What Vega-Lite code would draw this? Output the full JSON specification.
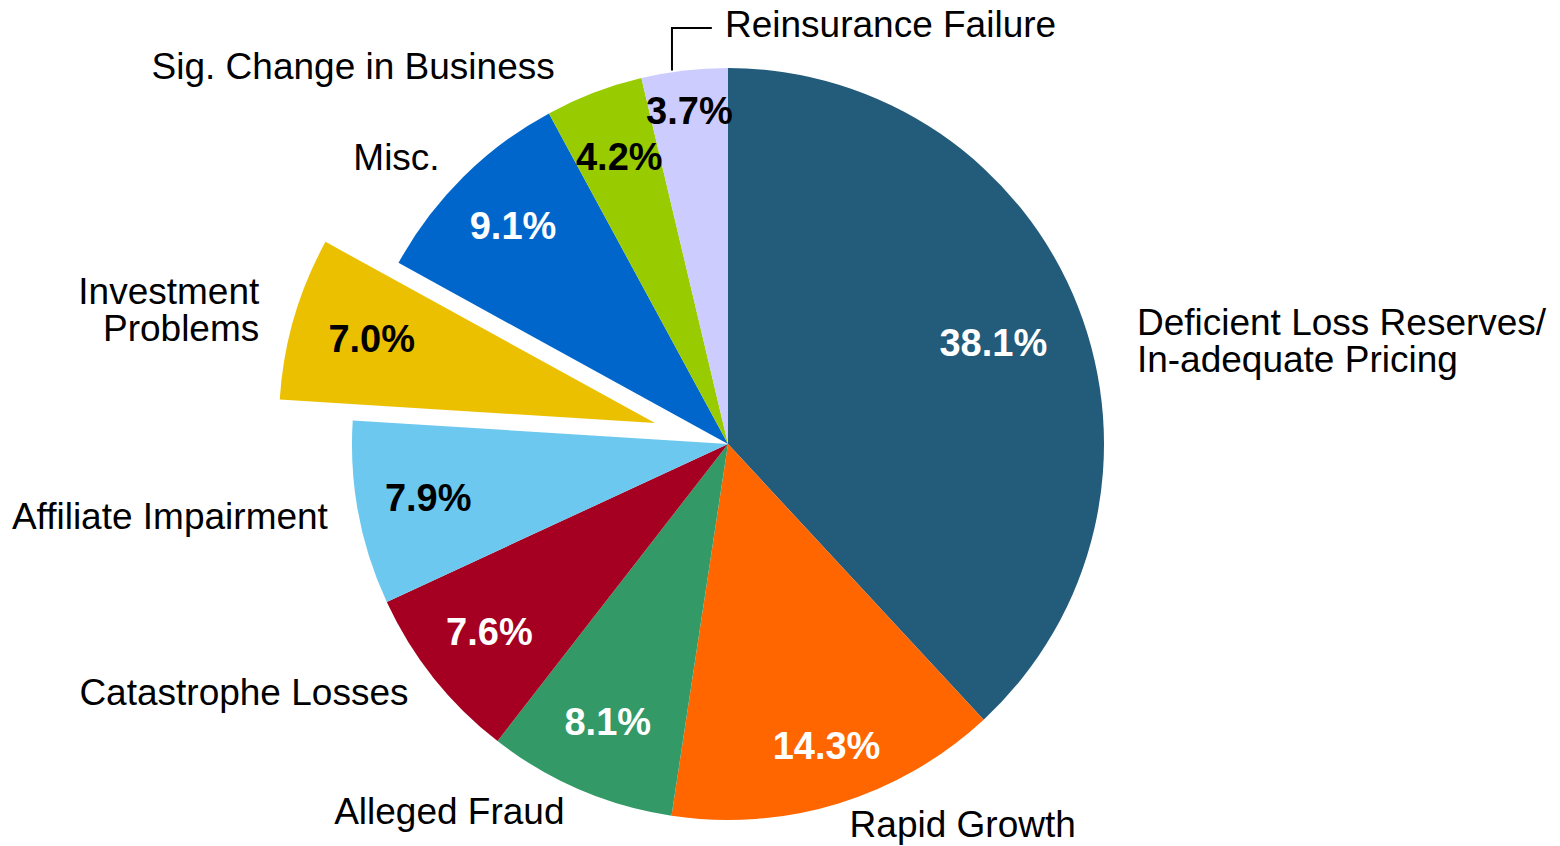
{
  "$schema": "https://vega.github.io/schema/vega-lite/v6.json",
  "width": 1456,
  "height": 804,
  "autosize": {"type": "none"},
  "padding": {"left": 0, "top": 42, "right": 104, "bottom": 0},
  "background": "white",
  "config": {"view": {"stroke": null}, "text": {"font": "Liberation Sans"}},
  "datasets": {
    "causes": [
      {"order": 1, "cause": "Deficient Loss Reserves/\nIn-adequate Pricing", "pct": 38.1},
      {"order": 2, "cause": "Rapid Growth", "pct": 14.3},
      {"order": 3, "cause": "Alleged Fraud", "pct": 8.1},
      {"order": 4, "cause": "Catastrophe Losses", "pct": 7.6},
      {"order": 5, "cause": "Affiliate Impairment", "pct": 7.9},
      {"order": 6, "cause": "Investment\nProblems", "pct": 7.0},
      {"order": 7, "cause": "Misc.", "pct": 9.1},
      {"order": 8, "cause": "Sig. Change in Business", "pct": 4.2},
      {"order": 9, "cause": "Reinsurance Failure", "pct": 3.7}
    ],
    "leader": [
      {"step": 1, "x": -14.9, "y": 99.3},
      {"step": 2, "x": -14.9, "y": 110.6},
      {"step": 3, "x": -4.3, "y": 110.6}
    ]
  },
  "layer": [
    {
      "data": {"name": "causes"},
      "transform": [
        {"window": [{"op": "sum", "field": "pct", "as": "cumEnd"}], "frame": [null, 0], "sort": [{"field": "order"}]},
        {"calculate": "datum.cumEnd - datum.pct", "as": "cumStart"},
        {"calculate": "(datum.cumStart + datum.cumEnd) / 2", "as": "mid"},
        {"calculate": "format(datum.pct, '.1f') + '%'", "as": "pctLabel"}
      ],
      "layer": [
        {
          "transform": [{"filter": "datum.order != 6"}],
          "mark": {"type": "arc", "outerRadius": 376},
          "encoding": {
            "theta": {"field": "cumStart", "type": "quantitative", "scale": {"domain": [0, 100]}, "stack": null},
            "theta2": {"field": "cumEnd"},
            "color": {
              "field": "order", "type": "nominal", "legend": null,
              "scale": {"domain": [1, 2, 3, 4, 5, 6, 7, 8, 9], "range": ["#235B7A", "#FF6600", "#339966", "#A50021", "#6CC8EE", "#EBC000", "#0066CC", "#99CC00", "#CCCCFF"]}
            }
          }
        },
        {
          "transform": [{"filter": "datum.order == 6"}],
          "mark": {"type": "arc", "outerRadius": 376, "xOffset": -73, "yOffset": -21},
          "encoding": {
            "theta": {"field": "cumStart", "type": "quantitative", "scale": {"domain": [0, 100]}, "stack": null},
            "theta2": {"field": "cumEnd"},
            "color": {"field": "order", "type": "nominal", "legend": null}
          }
        },
        {
          "transform": [{"filter": "indexof([3, 4, 5, 7, 8], datum.order) >= 0"}],
          "mark": {"type": "text", "radius": 305, "fontSize": 38, "fontWeight": "bold", "align": "center", "baseline": "middle"},
          "encoding": {
            "theta": {"field": "mid", "type": "quantitative", "scale": {"domain": [0, 100]}, "stack": null},
            "text": {"field": "pctLabel"},
            "color": {"condition": {"test": "datum.order == 5 || datum.order == 8", "value": "black"}, "value": "white"}
          }
        },
        {
          "transform": [{"filter": "datum.order == 1"}],
          "mark": {"type": "text", "radius": 285, "dy": 5, "fontSize": 38, "fontWeight": "bold", "align": "center", "baseline": "middle", "color": "white"},
          "encoding": {
            "theta": {"field": "mid", "type": "quantitative", "scale": {"domain": [0, 100]}, "stack": null},
            "text": {"field": "pctLabel"}
          }
        },
        {
          "transform": [{"filter": "datum.order == 2"}],
          "mark": {"type": "text", "radius": 318, "dx": 5, "fontSize": 38, "fontWeight": "bold", "align": "center", "baseline": "middle", "color": "white"},
          "encoding": {
            "theta": {"field": "mid", "type": "quantitative", "scale": {"domain": [0, 100]}, "stack": null},
            "text": {"field": "pctLabel"}
          }
        },
        {
          "transform": [{"filter": "datum.order == 9"}],
          "mark": {"type": "text", "radius": 333, "fontSize": 38, "fontWeight": "bold", "align": "center", "baseline": "middle", "color": "black"},
          "encoding": {
            "theta": {"field": "mid", "type": "quantitative", "scale": {"domain": [0, 100]}, "stack": null},
            "text": {"field": "pctLabel"}
          }
        },
        {
          "transform": [{"filter": "datum.order == 6"}],
          "mark": {"type": "text", "radius": 295, "xOffset": -73, "yOffset": -21, "fontSize": 38, "fontWeight": "bold", "align": "center", "baseline": "middle", "color": "black"},
          "encoding": {
            "theta": {"field": "mid", "type": "quantitative", "scale": {"domain": [0, 100]}, "stack": null},
            "text": {"field": "pctLabel"}
          }
        },
        {
          "transform": [{"filter": "indexof([3, 4, 5, 7], datum.order) >= 0"}],
          "mark": {"type": "text", "radius": 402, "dx": -5, "fontSize": 37, "align": "right", "baseline": "middle", "color": "black"},
          "encoding": {
            "theta": {"field": "mid", "type": "quantitative", "scale": {"domain": [0, 100]}, "stack": null},
            "text": {"field": "cause"}
          }
        },
        {
          "transform": [{"filter": "datum.order == 8"}],
          "mark": {"type": "text", "radius": 402, "dx": -30, "fontSize": 37, "align": "right", "baseline": "middle", "color": "black"},
          "encoding": {
            "theta": {"field": "mid", "type": "quantitative", "scale": {"domain": [0, 100]}, "stack": null},
            "text": {"field": "cause"}
          }
        },
        {
          "transform": [{"filter": "datum.order == 2"}],
          "mark": {"type": "text", "radius": 400, "dx": 4, "fontSize": 37, "align": "left", "baseline": "middle", "color": "black"},
          "encoding": {
            "theta": {"field": "mid", "type": "quantitative", "scale": {"domain": [0, 100]}, "stack": null},
            "text": {"field": "cause"}
          }
        },
        {
          "transform": [{"filter": "datum.order == 1"}],
          "mark": {"type": "text", "radius": 421, "dx": 17, "dy": 34, "fontSize": 37, "lineBreak": "\n", "lineHeight": 37, "align": "left", "baseline": "middle", "color": "black"},
          "encoding": {
            "theta": {"field": "mid", "type": "quantitative", "scale": {"domain": [0, 100]}, "stack": null},
            "text": {"field": "cause"}
          }
        },
        {
          "transform": [{"filter": "datum.order == 6"}],
          "mark": {"type": "text", "radius": 410, "xOffset": -73, "yOffset": -21, "dx": -2, "dy": -16, "fontSize": 37, "lineBreak": "\n", "lineHeight": 37, "align": "right", "baseline": "middle", "color": "black"},
          "encoding": {
            "theta": {"field": "mid", "type": "quantitative", "scale": {"domain": [0, 100]}, "stack": null},
            "text": {"field": "cause"}
          }
        },
        {
          "transform": [{"filter": "datum.order == 9"}],
          "mark": {"type": "text", "radius": 418, "dx": -3, "fontSize": 37, "align": "left", "baseline": "middle", "color": "black"},
          "encoding": {
            "theta": {"field": "cumEnd", "type": "quantitative", "scale": {"domain": [0, 100]}, "stack": null},
            "text": {"field": "cause"}
          }
        }
      ]
    },
    {
      "data": {"name": "leader"},
      "mark": {"type": "line", "color": "black", "strokeWidth": 2},
      "encoding": {
        "x": {"field": "x", "type": "quantitative", "scale": {"domain": [-193.6, 193.6], "zero": false, "nice": false}, "axis": null},
        "y": {"field": "y", "type": "quantitative", "scale": {"domain": [-106.9, 106.9], "zero": false, "nice": false}, "axis": null},
        "order": {"field": "step", "type": "quantitative"}
      }
    }
  ]
}
